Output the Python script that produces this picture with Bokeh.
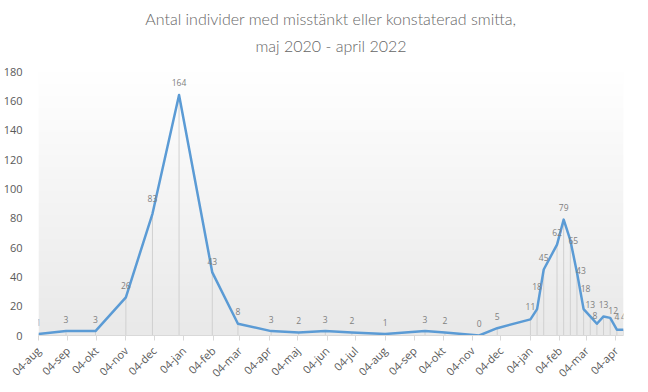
import numpy as np
import pandas as pd
from bokeh.plotting import figure
from bokeh.models import Title, FixedTicker, ColumnDataSource, Range1d
from bokeh.core.properties import value
from bokeh.embed import file_html
from bokeh.resources import INLINE

# ---------------- data ----------------
title_line1 = "Antal individer med misstänkt eller konstaterad smitta,"
title_line2 = "maj 2020 - april 2022"

dates = ["2020-08-04", "2020-09-02", "2020-10-03", "2020-11-04", "2020-12-02", "2020-12-30",
         "2021-02-03", "2021-03-02", "2021-04-06", "2021-05-05", "2021-06-02", "2021-06-30",
         "2021-08-04", "2021-09-15", "2021-10-06", "2021-11-11", "2021-11-30",
         "2022-01-04", "2022-01-11", "2022-01-18", "2022-02-01", "2022-02-08", "2022-02-15",
         "2022-02-22", "2022-03-01", "2022-03-08", "2022-03-15", "2022-03-22", "2022-03-29",
         "2022-04-05", "2022-04-12"]
counts = [1, 3, 3, 26, 83, 164, 43, 8, 3, 2, 3, 2, 1, 3, 2, 0, 5,
          11, 18, 45, 62, 79, 65, 43, 18, 13, 8, 13, 12, 4, 4]

tick_start = "2020-08-04"
tick_labels = ["04-aug", "04-sep", "04-okt", "04-nov", "04-dec", "04-jan", "04-feb",
               "04-mar", "04-apr", "04-maj", "04-jun", "04-jul", "04-aug", "04-sep",
               "04-okt", "04-nov", "04-dec", "04-jan", "04-feb", "04-mar", "04-apr"]
y_ticks = [0, 20, 40, 60, 80, 100, 120, 140, 160, 180]

# label placement (screen px): distance above point, shift right
label_up = [12, 12, 12, 12, 15, 12, 11, 12, 12, 12, 12, 12, 12, 12, 12, 12, 12,
            13, 23, 12, 12, 12, 0, 2, 21, 12, 8, 12, 7, 13, 13]
label_right = [0, 0, 0, 0, 0, 0, 0, 0, 0, 0, 0, 0, 0, 0, 0, 0, 0,
               0, 0, 0, 0, 0, 3, 4, 2, 0, -2, 0, 3, 0, 0]

# ---------------- build ----------------
x = pd.to_datetime(dates)
tick_dates = pd.date_range(tick_start, periods=len(tick_labels), freq=pd.DateOffset(months=1))
tick_ms = [int(t.value // 10**6) for t in tick_dates]

x_start = x[0]
x_end = x[-1]

src = ColumnDataSource(dict(
    x=x, y=counts, zero=[0] * len(counts),
    lab=[str(c) for c in counts],
    dy=[-u for u in label_up], dx=label_right,
))

p = figure(width=640, height=388, x_axis_type="datetime",
           x_range=Range1d(x_start, x_end), y_range=Range1d(y_ticks[0], y_ticks[-1]),
           output_backend="svg", toolbar_location=None, title=None,
           min_border_left=38, min_border_right=17, min_border_top=71, min_border_bottom=30,
           background_fill_color="white", border_fill_color="white")
p.outline_line_color = None
p.xgrid.visible = False
p.ygrid.visible = False

# gradient background of plot area
n = 200
g = np.linspace(233, 255, n)  # bottom -> top
img = np.zeros((n, 1), dtype=np.uint32)
view = img.view(dtype=np.uint8).reshape((n, 1, 4))
view[:, 0, 0] = g.astype(np.uint8)
view[:, 0, 1] = g.astype(np.uint8)
view[:, 0, 2] = g.astype(np.uint8)
view[:, 0, 3] = 255
x0_ms = x_start.value / 1e6
x1_ms = x_end.value / 1e6
p.image_rgba(image=[img], x=x0_ms, y=y_ticks[0], dw=x1_ms - x0_ms,
             dh=y_ticks[-1] - y_ticks[0])

# drop lines
p.segment(x0="x", y0="zero", x1="x", y1="y", source=src, line_color="#d0d0d0", line_width=1)
# line
p.line("x", "y", source=src, line_color="#5b9bd5", line_width=2.5, line_join="round")
# data labels
p.text("x", "y", text="lab", source=src, x_offset="dx", y_offset="dy",
       text_align="center", text_baseline="middle", text_font_size="8.5px",
       text_color="#7f7f7f", text_font=value("Open Sans"))

# axes
xa = p.xaxis[0]
xa.ticker = FixedTicker(ticks=tick_ms)
xa.major_label_overrides = {t: l for t, l in zip(tick_ms, tick_labels)}
xa.major_label_orientation = np.pi / 4
xa.axis_line_color = "#d9d9d9"
xa.major_tick_line_color = "#d9d9d9"
xa.major_tick_out = 5
xa.major_tick_in = 0
xa.minor_tick_line_color = None
xa.major_label_text_font_size = "11px"
xa.major_label_text_color = "#595959"
xa.major_label_text_font = "Open Sans"
xa.major_label_standoff = 8

ya = p.yaxis[0]
ya.ticker = FixedTicker(ticks=y_ticks)
ya.axis_line_color = None
ya.major_tick_line_color = None
ya.minor_tick_line_color = None
ya.major_label_text_font_size = "11px"
ya.major_label_text_color = "#595959"
ya.major_label_text_font = "Open Sans"
ya.major_label_standoff = 10

# title (two lines) plus a thin spacer between title and plot area
tfont = "'Lato Light', Lato"
spacer = Title(text=" ", align="center", text_font_size="1px", standoff=10)
t2 = Title(text=title_line2, align="center", text_font_size="16px", offset=-5,
           text_font=tfont, text_font_style="normal", text_color="#666666", standoff=7)
t1 = Title(text=title_line1, align="center", text_font_size="16px", offset=-5,
           text_font=tfont, text_font_style="normal", text_color="#666666", standoff=5)
p.add_layout(spacer, "above")
p.add_layout(t2, "above")
p.add_layout(t1, "above")

open("out.html", "w").write(file_html(p, INLINE))
